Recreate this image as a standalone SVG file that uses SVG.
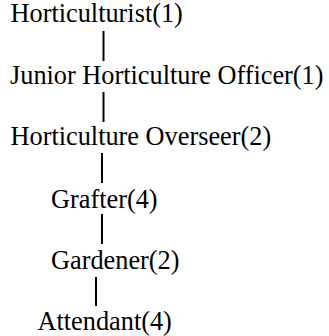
<svg xmlns="http://www.w3.org/2000/svg" width="329" height="336" viewBox="0 0 329 336">
<style>
text{font-family:"Liberation Serif","Times New Roman",serif;font-size:26.3px;fill:#000}
.c line{stroke:#000;stroke-width:2}
</style>
<rect width="329" height="336" fill="#fff"/>
<g class="c" id="connectors">
<line x1="103.5" y1="31" x2="103.5" y2="61"/>
<line x1="103.5" y1="92" x2="103.5" y2="122"/>
<line x1="102" y1="153" x2="102" y2="183"/>
<line x1="102" y1="214" x2="102" y2="244"/>
<line x1="96" y1="277" x2="96" y2="306"/>
</g>
<g id="n1"><text x="10.5" y="22">Horticulturist(1)</text></g>
<g id="n2"><text x="10" y="84">Junior Horticulture Officer(1)</text></g>
<g id="n3"><text x="10.5" y="145">Horticulture Overseer(2)</text></g>
<g id="n4"><text x="51" y="208">Grafter(4)</text></g>
<g id="n5"><text x="51" y="269">Gardener(2)</text></g>
<g id="n6"><text x="37.5" y="330">Attendant(4)</text></g>
</svg>
